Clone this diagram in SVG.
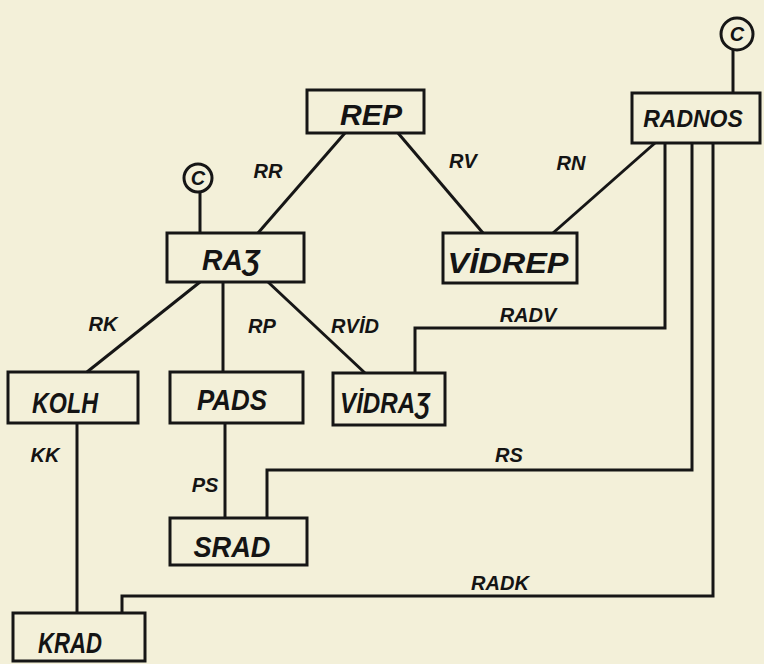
<svg xmlns="http://www.w3.org/2000/svg" width="764" height="664" viewBox="0 0 764 664">
<style>
.bx{fill:none;stroke:#161616;stroke-width:3}
.ln{fill:none;stroke:#161616;stroke-width:3;stroke-linejoin:miter}
.nt{font-family:"Liberation Sans",Arial,sans-serif;font-weight:bold;font-style:italic;font-size:30px;fill:#141414;text-anchor:middle}
.sm{font-size:23px}
.lb{font-family:"Liberation Sans",Arial,sans-serif;font-weight:bold;font-style:italic;font-size:20px;fill:#141414;text-anchor:middle}
.cc{fill:none;stroke:#161616;stroke-width:3}
</style>
<rect width="764" height="664" fill="#f3f0d9"/>
<g id="connectors">
<line class="ln" x1="345" y1="133" x2="258" y2="233"/>
<line class="ln" x1="398" y1="133" x2="483" y2="233"/>
<line class="ln" x1="655" y1="143" x2="553" y2="233"/>
<line class="ln" x1="733" y1="50" x2="733" y2="93"/>
<line class="ln" x1="200" y1="191" x2="200" y2="233"/>
<line class="ln" x1="200" y1="282" x2="87" y2="372"/>
<line class="ln" x1="223" y1="282" x2="223" y2="372"/>
<line class="ln" x1="268" y1="282" x2="365" y2="373"/>
<polyline class="ln" points="415,373 415,328 665,328 665,143"/>
<polyline class="ln" points="692,143 692,470 267,470 267,518"/>
<polyline class="ln" points="713,143 713,596 122,596 122,613"/>
<line class="ln" x1="77" y1="423" x2="77" y2="613"/>
<line class="ln" x1="225" y1="423" x2="225" y2="518"/>
<text class="lb" x="268" y="178">RR</text>
<text class="lb" x="463" y="168">RV</text>
<text class="lb" x="571" y="170">RN</text>
<text class="lb" x="103" y="331">RK</text>
<text class="lb" x="262" y="333">RP</text>
<text class="lb" x="355" y="333">RVİD</text>
<text class="lb" x="528" y="322">RADV</text>
<text class="lb" x="509" y="462">RS</text>
<text class="lb" x="45" y="462">KK</text>
<text class="lb" x="205" y="492">PS</text>
<text class="lb" x="500" y="590">RADK</text>
</g>
<g id="REP"><rect class="bx" x="307" y="90" width="117" height="43"/><text class="nt" x="371" y="125" textLength="62" lengthAdjust="spacingAndGlyphs">REP</text></g>
<g id="RADNOS"><rect class="bx" x="632" y="93" width="128" height="50"/><text class="nt sm" x="693" y="127">RADNOS</text></g>
<g id="C1"><circle class="cc" cx="737" cy="34" r="16"/><text class="lb" x="737" y="41">C</text></g>
<g id="C2"><circle class="cc" cx="198" cy="178" r="14"/><text class="lb" x="198" y="185">C</text></g>
<g id="RAJ"><rect class="bx" x="167" y="233" width="137" height="49"/><text class="nt" x="231" y="270" textLength="58" lengthAdjust="spacingAndGlyphs">RAƷ</text></g>
<g id="VIDREP"><rect class="bx" x="443" y="233" width="134" height="50"/><text class="nt" x="508" y="273" textLength="121" lengthAdjust="spacingAndGlyphs">VİDREP</text></g>
<g id="KOLH"><rect class="bx" x="8" y="372" width="130" height="51"/><text class="nt" x="65" y="413" textLength="66" lengthAdjust="spacingAndGlyphs">KOLH</text></g>
<g id="PADS"><rect class="bx" x="170" y="372" width="133" height="51"/><text class="nt" x="232" y="410" textLength="70" lengthAdjust="spacingAndGlyphs">PADS</text></g>
<g id="VIDRAJ"><rect class="bx" x="333" y="373" width="112" height="52"/><text class="nt" x="385" y="413" textLength="90" lengthAdjust="spacingAndGlyphs">VİDRAƷ</text></g>
<g id="SRAD"><rect class="bx" x="170" y="518" width="137" height="47"/><text class="nt" x="232" y="557" textLength="77" lengthAdjust="spacingAndGlyphs">SRAD</text></g>
<g id="KRAD"><rect class="bx" x="13" y="613" width="132" height="48"/><text class="nt" x="70" y="653" textLength="64" lengthAdjust="spacingAndGlyphs">KRAD</text></g>
</svg>
